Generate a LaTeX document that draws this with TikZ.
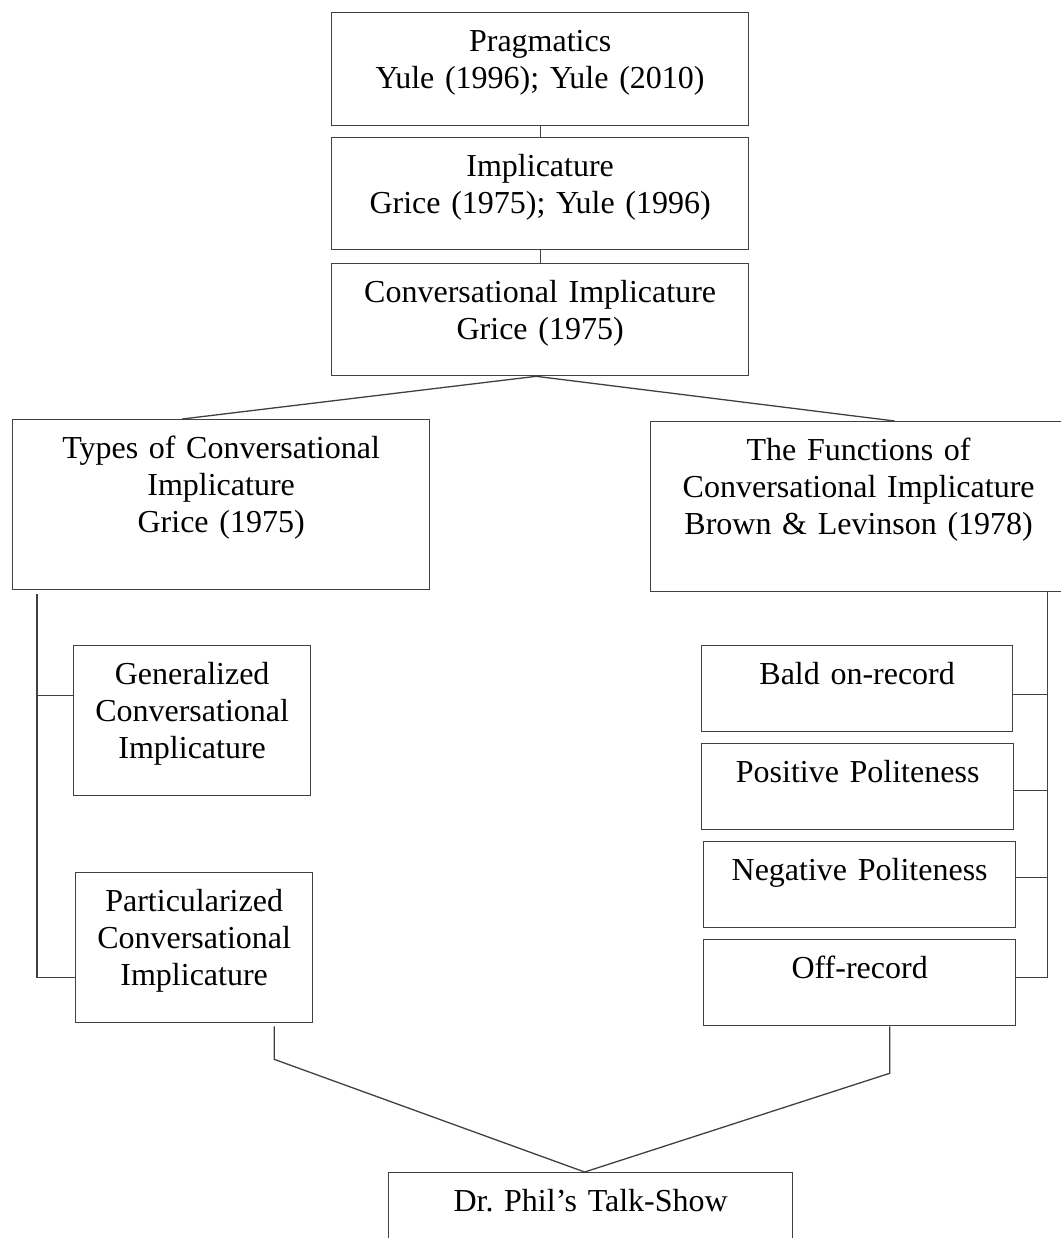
\documentclass[tikz,border=0pt]{standalone}
\usepackage{fontspec}
\setmainfont{Liberation Serif}
\usepackage{tikz}
\usetikzlibrary{positioning, calc}
\frenchspacing

\begin{document}
\begin{tikzpicture}[x=0.5pt, y=-0.5pt,
  box/.style 2 args={draw=black!75, line width=0.65pt, anchor=north west,
    align=center, inner sep=0pt, text height=19.5pt,
    text width=#1, text depth=#2,
    font=\fontsize{16}{18.5}\selectfont},
  link/.style={draw=black!75, line width=0.65pt}]
  \useasboundingbox (0,0) rectangle (1061,1238);
  \clip (0,0) rectangle (1061,1238);

  % top chain
  \node[box={208.5pt}{37pt}]   (prag) at (331,12)  {Pragmatics\\Yule (1996); Yule (2010)};
  \node[box={208.5pt}{36.5pt}] (impl) at (331,137) {Implicature\\Grice (1975); Yule (1996)};
  \node[box={208.5pt}{36.5pt}] (conv) at (331,263) {Conversational Implicature\\Grice (1975)};

  % two branches
  \node[box={208.5pt}{65.5pt}] (types) at (12,419)  {Types of Conversational\\Implicature\\Grice (1975)};
  \node[box={208pt}{65.5pt}]   (func)  at (650,421) {The Functions of\\Conversational Implicature\\Brown \& Levinson (1978)};

  % left children
  \node[box={118.5pt}{55.5pt}] (gen)  at (73,645) {Generalized\\Conversational\\Implicature};
  \node[box={118.5pt}{55.5pt}] (part) at (75,872) {Particularized\\Conversational\\Implicature};

  % right children
  \node[box={155.5pt}{23.5pt}] (bald) at (701,645) {Bald on-record};
  \node[box={156pt}{23.5pt}]   (pos)  at (701,743) {Positive Politeness};
  \node[box={156pt}{23.5pt}]   (neg)  at (703,841) {Negative Politeness};
  \node[box={156pt}{23.5pt}]   (off)  at (703,939) {Off-record};

  % data
  \node[box={202pt}{23.5pt}] (show) at (388,1172) {Dr. Phil’s Talk-Show};

  % connectors
  \draw[link] (prag.south) -- (impl.north);
  \draw[link] (impl.south) -- (conv.north);
  \draw[link] ([xshift=-2pt]conv.south) -- ([xshift=-19.5pt]types.north);
  \draw[link] ([xshift=-2pt]conv.south) -- ([xshift=18pt]func.north);

  \coordinate (lspine) at ([xshift=12.5pt,yshift=-2pt]types.south west);
  \coordinate (gtick) at ([yshift=12.5pt]gen.west);
  \draw[link] (lspine) |- ([yshift=-15pt]part.west);
  \draw[link] (gtick) -- (lspine |- gtick);

  \coordinate (rspine) at ([xshift=-10pt]func.south east);
  \draw[link] (rspine) |- ([yshift=2.5pt]off.east);
  \foreach \n/\s in {bald/-3pt, pos/-2pt, neg/3.5pt} {
    \coordinate (rtick) at ([yshift=\s]\n.east);
    \draw[link] (rtick) -- (rspine |- rtick);
  }

  \draw[link] ([xshift=40pt,yshift=-1.5pt]part.south) -- ++(0,33) -- ([xshift=-3pt]show.north);
  \draw[link] ([xshift=15pt]off.south) -- ++(0,47) -- ([xshift=-3pt]show.north);
\end{tikzpicture}
\end{document}
